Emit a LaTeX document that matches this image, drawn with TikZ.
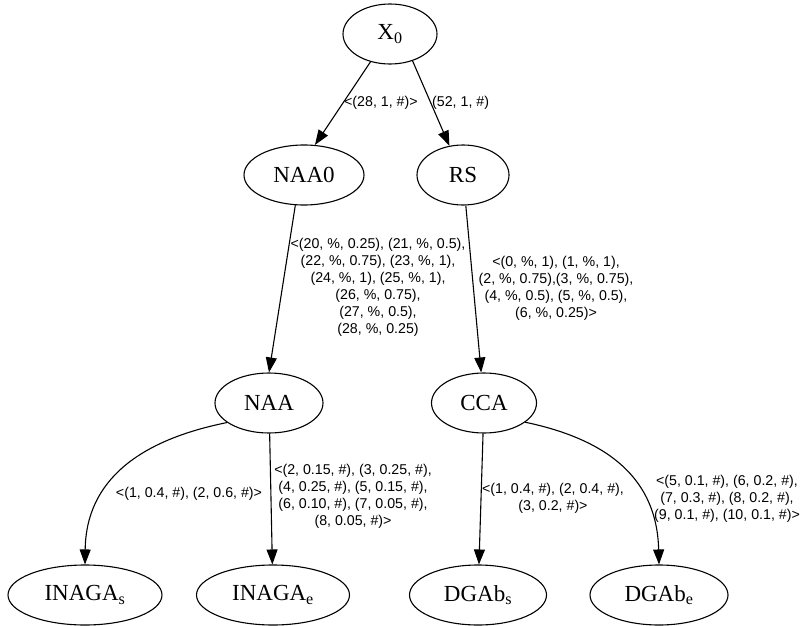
\documentclass[tikz,border=0pt]{standalone}
\usepackage{fontspec}
\setmainfont{Liberation Serif}
\newfontfamily\labfont{Liberation Sans}
\usetikzlibrary{shapes.geometric,arrows.meta}
\tikzset{
  st/.style={draw, ellipse, line width=1.1pt, inner sep=0pt, minimum height=60pt,
    font=\fontsize{23}{26}\selectfont},
  lab/.style={inner sep=0pt, align=center, font=\labfont\fontsize{14.2}{17}\selectfont},
  edge/.style={line width=1.1pt, -{Triangle[length=15pt,width=11pt]}}
}
\begin{document}
\begin{tikzpicture}[x=1pt,y=-1pt]
\useasboundingbox (0,0) rectangle (803,626);
\node[st, minimum width=94pt] (X0) at (390,34) {X\textsubscript{0}};
\node[st, minimum width=120pt] (NAA0) at (304,175) {NAA0};
\node[st, minimum width=92pt] (RS) at (463,175) {RS};
\node[st, minimum width=108pt] (NAA) at (269,403) {NAA};
\node[st, minimum width=105pt] (CCA) at (484,403) {CCA};
\node[st, minimum width=154pt] (INAGAs) at (85,595) {INAGA\textsubscript{s}};
\node[st, minimum width=153pt] (INAGAe) at (273,595) {INAGA\textsubscript{e}};
\node[st, minimum width=137pt] (DGAbs) at (478,595) {DGAb\textsubscript{s}};
\node[st, minimum width=138pt] (DGAbe) at (659,595) {DGAb\textsubscript{e}};

\draw[edge] (X0.235) -- (NAA0.70);
\draw[edge] (X0.310) -- (RS.115);
\draw[edge] (NAA0.254) -- (NAA.north);
\draw[edge] (RS) -- (CCA);
\draw[edge] (NAA.205) .. controls (140,440) and (86,480) .. (INAGAs.north);
\draw[edge] (NAA) -- (INAGAe);
\draw[edge] (CCA) -- (DGAbs);
\draw[edge] (CCA.335) .. controls (610,440) and (657,480) .. (DGAbe.north);

\node[lab, anchor=west] (l1) at (344,103) {<(28, 1, \#)>};
\node[lab, anchor=west] (l2) at (432,103) {(52, 1, \#)};
\node[lab] (l3) at (378,287) {<(20, \%, 0.25), (21, \%, 0.5),\\(22, \%, 0.75), (23, \%, 1),\\(24, \%, 1), (25, \%, 1),\\(26, \%, 0.75),\\(27, \%, 0.5),\\(28, \%, 0.25)};
\node[lab] (l4) at (556,288) {<(0, \%, 1), (1, \%, 1),\\(2, \%, 0.75),(3, \%, 0.75),\\(4, \%, 0.5), (5, \%, 0.5),\\(6, \%, 0.25)>};
\node[lab] (l5) at (189,494) {<(1, 0.4, \#), (2, 0.6, \#)>};
\node[lab] (l6) at (353,496) {<(2, 0.15, \#), (3, 0.25, \#),\\(4, 0.25, \#), (5, 0.15, \#),\\(6, 0.10, \#), (7, 0.05, \#),\\(8, 0.05, \#)>};
\node[lab] (l7) at (553,498) {<(1, 0.4, \#), (2, 0.4, \#),\\(3, 0.2, \#)>};
\node[lab] (l8) at (727,499) {<(5, 0.1, \#), (6, 0.2, \#),\\(7, 0.3, \#), (8, 0.2, \#),\\(9, 0.1, \#), (10, 0.1, \#)>};
\end{tikzpicture}
\end{document}
